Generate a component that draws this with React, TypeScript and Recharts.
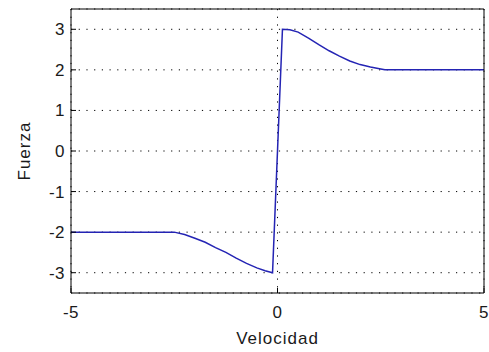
import { LineChart, Line, XAxis, YAxis, CartesianGrid } from 'recharts';

// Friction force against sliding velocity (Stribeck-style curve)
const velocity = [
  -5, -2.5, -2.25, -2.0, -1.75, -1.5, -1.25, -1.0, -0.75, -0.5, -0.3, -0.12,
  0.12, 0.3, 0.5, 0.75, 1.0, 1.25, 1.5, 1.75, 2.0, 2.25, 2.5, 2.6, 5,
];
const force = [
  -2, -2, -2.06, -2.15, -2.25, -2.38, -2.5, -2.64, -2.77, -2.88, -2.95, -3.0,
  3.0, 2.99, 2.93, 2.78, 2.62, 2.47, 2.34, 2.22, 2.13, 2.07, 2.02, 2.0, 2,
];
const xTicks = [-5, 0, 5];
const yTicks = [-3, -2, -1, 0, 1, 2, 3];

const data = velocity.map((v, i) => ({ v, f: force[i] }));

const FONT = '"Liberation Sans", Arial, sans-serif';
const INK = '#1a1a1a';
const tickStyle = { fill: INK, fontSize: 17, fontFamily: FONT, letterSpacing: 0.5 };

function FuerzaTitle(props: any) {
  const { viewBox } = props;
  const x = 30;
  const y = viewBox.y + viewBox.height / 2;
  return (
    <text
      x={x}
      y={y}
      transform={`rotate(-90, ${x}, ${y})`}
      textAnchor="middle"
      fill={INK}
      fontSize={17}
      fontFamily={FONT}
      letterSpacing={1}
    >
      Fuerza
    </text>
  );
}

export default function App() {
  return (
    <div style={{ position: 'absolute', left: 0, top: 0, width: 489, height: 352, background: '#fff' }}>
      <LineChart width={489} height={352} data={data} margin={{ top: 8, right: 4, bottom: 3, left: 31 }}>
        <CartesianGrid stroke="#000" strokeDasharray="1.2 6.5" />
        <XAxis
          dataKey="v"
          type="number"
          domain={[-5, 5]}
          ticks={xTicks}
          interval={0}
          height={56}
          tick={tickStyle}
          tickSize={-5}
          tickMargin={18}
          tickLine={{ stroke: '#000' }}
          axisLine={{ stroke: '#000' }}
          label={{
            value: 'Velocidad',
            position: 'insideBottom',
            offset: 5,
            fill: INK,
            fontSize: 17,
            fontFamily: FONT,
            letterSpacing: 1,
          }}
        />
        {/* top and right axes close the box with inward ticks */}
        <XAxis
          xAxisId="top"
          dataKey="v"
          orientation="top"
          type="number"
          domain={[-5, 5]}
          ticks={xTicks}
          interval={0}
          height={1}
          tick={false}
          tickSize={-5}
          tickLine={{ stroke: '#000' }}
          axisLine={{ stroke: '#000' }}
        />
        <YAxis
          type="number"
          domain={[-3.5, 3.5]}
          ticks={yTicks}
          interval={0}
          width={40}
          tick={tickStyle}
          tickSize={-5}
          tickMargin={11}
          tickLine={{ stroke: '#000' }}
          axisLine={{ stroke: '#000' }}
          label={{ content: <FuerzaTitle /> }}
        />
        <YAxis
          yAxisId="right"
          orientation="right"
          type="number"
          domain={[-3.5, 3.5]}
          ticks={yTicks}
          interval={0}
          width={1}
          tick={false}
          tickSize={-5}
          tickLine={{ stroke: '#000' }}
          axisLine={{ stroke: '#000' }}
        />
        <Line
          xAxisId="top"
          yAxisId="right"
          type="linear"
          dataKey="f"
          stroke="none"
          dot={false}
          activeDot={false}
          isAnimationActive={false}
        />
        <Line
          type="linear"
          dataKey="f"
          stroke="#2424b4"
          strokeWidth={1.5}
          dot={false}
          isAnimationActive={false}
        />
      </LineChart>
    </div>
  );
}
